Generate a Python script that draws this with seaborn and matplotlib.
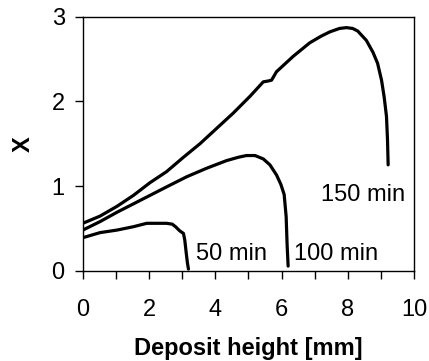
import matplotlib
matplotlib.use("Agg")
import matplotlib.pyplot as plt
import seaborn as sns
import pandas as pd
from matplotlib.ticker import MultipleLocator

# Profiles of X along the deposit height for three deposition times
h_50 = [0.0, 0.52, 1.03, 1.53, 1.93, 2.3, 2.53, 2.70, 2.80, 2.93, 3.04, 3.08, 3.12, 3.16, 3.19]
x_50 = [0.39, 0.45, 0.48, 0.52, 0.56, 0.56, 0.56, 0.55, 0.52, 0.47, 0.44, 0.36, 0.22, 0.09, 0.02]

h_100 = [0.0, 0.52, 1.03, 1.53, 2.03, 2.53, 3.14, 3.74, 4.34, 4.70, 4.94, 5.20, 5.45, 5.65,
         5.85, 5.98, 6.08, 6.14, 6.17, 6.20]
x_100 = [0.48, 0.58, 0.69, 0.79, 0.89, 0.99, 1.11, 1.21, 1.30, 1.34, 1.36, 1.36, 1.32, 1.25,
         1.13, 1.02, 0.90, 0.64, 0.30, 0.055]

h_150 = [0.0, 0.52, 1.03, 1.53, 2.03, 2.53, 3.04, 3.54, 4.04, 4.54, 5.05, 5.45, 5.60, 5.70,
         5.85, 6.35, 6.85, 7.20, 7.46, 7.75, 7.96, 8.15, 8.30, 8.56, 8.76, 8.90, 9.02, 9.10,
         9.17, 9.20, 9.22]
x_150 = [0.56, 0.645, 0.76, 0.89, 1.04, 1.17, 1.34, 1.50, 1.68, 1.86, 2.06, 2.23, 2.24, 2.25,
         2.35, 2.53, 2.69, 2.77, 2.82, 2.86, 2.87, 2.86, 2.83, 2.72, 2.58, 2.45, 2.25, 2.05,
         1.82, 1.55, 1.25]

labels = ["50 min", "100 min", "150 min"]
label_pos = [(4.49, 0.20), (7.66, 0.20), (8.46, 0.89)]

sns.set_theme(style="ticks")
plt.rcParams["font.family"] = ["Liberation Sans", "DejaVu Sans"]
plt.rcParams["text.color"] = "black"
plt.rcParams["axes.labelcolor"] = "black"

fig = plt.figure(figsize=(4.29, 3.61), dpi=100)
ax = fig.add_axes([0.193, 0.25, 0.772, 0.704])

for h, x in [(h_50, x_50), (h_100, x_100), (h_150, x_150)]:
    df = pd.DataFrame({"h": h, "x": x})
    sns.lineplot(data=df, x="h", y="x", sort=False, color="black", lw=2.3, ax=ax, estimator=None)

for lab, (px, py) in zip(labels, label_pos):
    ax.text(px, py, lab, ha="center", va="center", fontsize=17, color="black")

ax.set_xlim(0, 10)
ax.set_ylim(0, 3)
ax.xaxis.set_major_locator(MultipleLocator(2))
ax.xaxis.set_minor_locator(MultipleLocator(1))
ax.yaxis.set_major_locator(MultipleLocator(1))
ax.tick_params(axis="both", which="both", direction="out", length=6, width=1.0, color="black",
               labelsize=17, labelcolor="black")
ax.tick_params(axis="x", which="both", pad=14)
ax.tick_params(axis="y", pad=7)
for s in ax.spines.values():
    s.set_visible(True)
    s.set_color("black")
    s.set_linewidth(1.0)

ax.set_xlabel("Deposit height [mm]", fontsize=17, fontweight="bold", labelpad=12)
ax.set_ylabel("X", fontsize=17, fontweight="bold", labelpad=12)

fig.savefig("out.png", dpi=100)
